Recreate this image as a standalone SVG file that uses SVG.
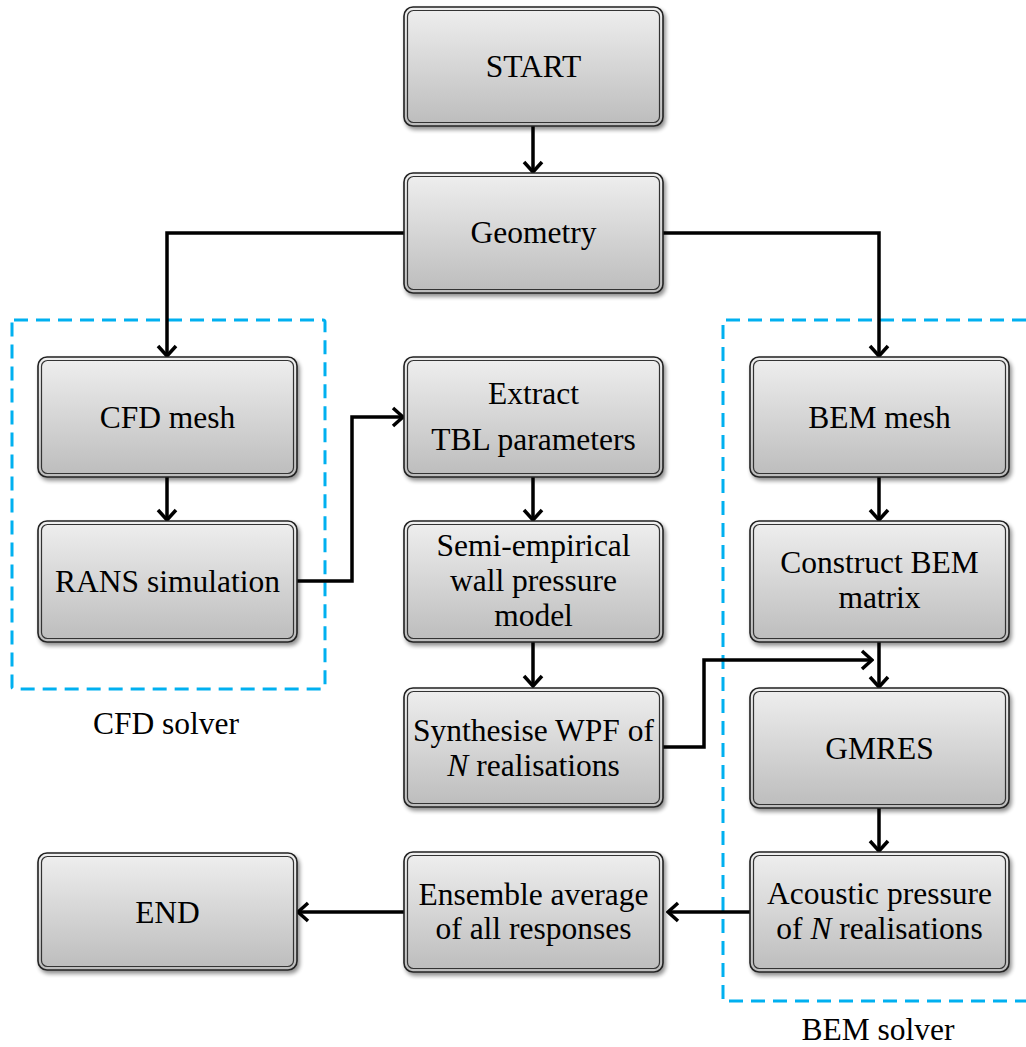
<svg xmlns="http://www.w3.org/2000/svg" width="1026" height="1047" viewBox="0 0 1026 1047" font-family="'Liberation Serif', 'Times New Roman', 'DejaVu Serif', serif">
<defs>
<linearGradient id="g" x1="0" y1="0" x2="0" y2="1">
<stop offset="0" stop-color="#efefef"/>
<stop offset="1" stop-color="#bcbcbc"/>
</linearGradient>
<filter id="sh" x="-5%" y="-5%" width="115%" height="120%">
<feGaussianBlur in="SourceAlpha" stdDeviation="2"/>
<feOffset dx="2" dy="3" result="b"/>
<feComponentTransfer><feFuncA type="linear" slope="0.45"/></feComponentTransfer>
<feMerge><feMergeNode/><feMergeNode in="SourceGraphic"/></feMerge>
</filter>
<marker id="ah" viewBox="0 0 14 22" markerWidth="14" markerHeight="22" refX="12" refY="11" orient="auto" markerUnits="userSpaceOnUse">
<path d="M2,2 L12,11 L2,20" fill="none" stroke="#000" stroke-width="3.5"/>
</marker>
</defs>
<style>
.box{fill:url(#g);stroke:#222;stroke-width:1.6;filter:url(#sh)}
.inner{fill:none;stroke:#333;stroke-width:1.2}
text{font-family:'Liberation Serif','Times New Roman','DejaVu Serif',serif;font-size:31.5px;fill:#000;text-anchor:middle}
.c{fill:none;stroke:#000;stroke-width:3.5}
.a{marker-end:url(#ah)}
.dash{fill:none;stroke:#00b0f0;stroke-width:3;stroke-dasharray:14 8}
</style>

<g id="groups">
<rect class="dash" x="12" y="320" width="313" height="369" rx="2"/>
<path class="dash" d="M1026,320 H723 V1001 H1026"/>
<text x="166" y="734">CFD solver</text>
<text x="878" y="1040">BEM solver</text>
</g>

<g id="connectors">
<path class="c a" d="M533,126 V172"/>
<path class="c a" d="M404,233 H167 V356"/>
<path class="c a" d="M663,233 H879 V356"/>
<path class="c a" d="M167,477 V520"/>
<path class="c a" d="M297,581 H352 V417 H403"/>
<path class="c a" d="M533,477 V520"/>
<path class="c a" d="M533,642 V686"/>
<path class="c a" d="M663,747 H704 V660 H872"/>
<path class="c a" d="M879,477 V520"/>
<path class="c a" d="M879,642 V687"/>
<path class="c a" d="M879,808 V851"/>
<path class="c a" d="M750,912 H668"/>
<path class="c a" d="M404,912 H298"/>
</g>

<g id="start">
<rect class="box" x="404" y="7" width="259" height="119" rx="9"/>
<rect class="inner" x="407.5" y="10.5" width="252" height="112" rx="6"/>
<text x="533.5" y="77">START</text>
</g>
<g id="geometry">
<rect class="box" x="404" y="173" width="259" height="120" rx="9"/>
<rect class="inner" x="407.5" y="176.5" width="252" height="113" rx="6"/>
<text x="533.5" y="243">Geometry</text>
</g>
<g id="cfd-mesh">
<rect class="box" x="38" y="357" width="259" height="120" rx="9"/>
<rect class="inner" x="41.5" y="360.5" width="252" height="113" rx="6"/>
<text x="167.5" y="428">CFD mesh</text>
</g>
<g id="rans">
<rect class="box" x="38" y="521" width="259" height="121" rx="9"/>
<rect class="inner" x="41.5" y="524.5" width="252" height="114" rx="6"/>
<text x="167.5" y="592">RANS simulation</text>
</g>
<g id="extract">
<rect class="box" x="404" y="357" width="259" height="120" rx="9"/>
<rect class="inner" x="407.5" y="360.5" width="252" height="113" rx="6"/>
<text x="533.5" y="404">Extract</text>
<text x="533.5" y="450">TBL parameters</text>
</g>
<g id="semi-empirical">
<rect class="box" x="404" y="521" width="259" height="121" rx="9"/>
<rect class="inner" x="407.5" y="524.5" width="252" height="114" rx="6"/>
<text x="533.5" y="556">Semi-empirical</text>
<text x="533.5" y="591">wall pressure</text>
<text x="533.5" y="626">model</text>
</g>
<g id="synthesise">
<rect class="box" x="404" y="688" width="259" height="119" rx="9"/>
<rect class="inner" x="407.5" y="691.5" width="252" height="112" rx="6"/>
<text x="533.5" y="741">Synthesise WPF of</text>
<text x="533.5" y="776"><tspan font-style="italic">N</tspan> realisations</text>
</g>
<g id="ensemble">
<rect class="box" x="404" y="852" width="259" height="120" rx="9"/>
<rect class="inner" x="407.5" y="855.5" width="252" height="113" rx="6"/>
<text x="533.5" y="905">Ensemble average</text>
<text x="533.5" y="939">of all responses</text>
</g>
<g id="end">
<rect class="box" x="38" y="853" width="259" height="117" rx="9"/>
<rect class="inner" x="41.5" y="856.5" width="252" height="110" rx="6"/>
<text x="167.5" y="923">END</text>
</g>
<g id="bem-mesh">
<rect class="box" x="750" y="357" width="259" height="120" rx="9"/>
<rect class="inner" x="753.5" y="360.5" width="252" height="113" rx="6"/>
<text x="879.5" y="428">BEM mesh</text>
</g>
<g id="construct">
<rect class="box" x="750" y="521" width="259" height="121" rx="9"/>
<rect class="inner" x="753.5" y="524.5" width="252" height="114" rx="6"/>
<text x="879.5" y="573">Construct BEM</text>
<text x="879.5" y="608">matrix</text>
</g>
<g id="gmres">
<rect class="box" x="750" y="688" width="259" height="120" rx="9"/>
<rect class="inner" x="753.5" y="691.5" width="252" height="113" rx="6"/>
<text x="879.5" y="759">GMRES</text>
</g>
<g id="acoustic">
<rect class="box" x="750" y="852" width="259" height="120" rx="9"/>
<rect class="inner" x="753.5" y="855.5" width="252" height="113" rx="6"/>
<text x="879.5" y="904">Acoustic pressure</text>
<text x="879.5" y="939">of <tspan font-style="italic">N</tspan> realisations</text>
</g>
</svg>
